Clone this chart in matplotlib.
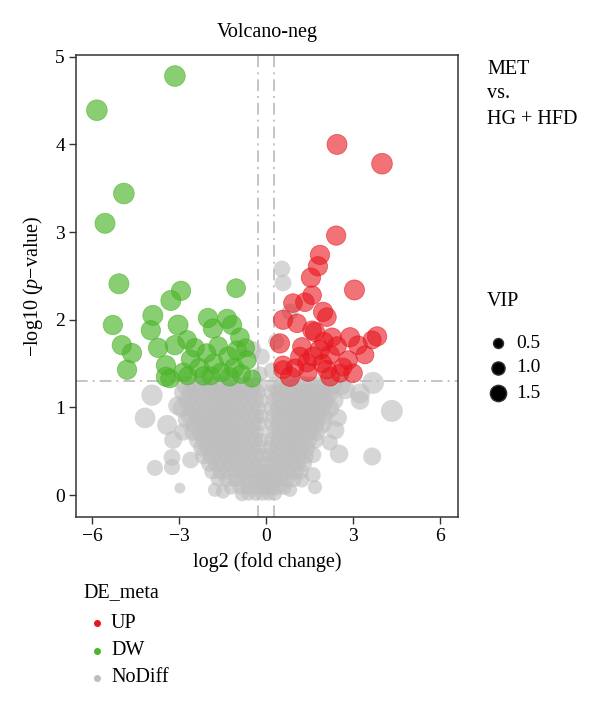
import matplotlib
matplotlib.use("Agg")
import matplotlib.pyplot as plt
import numpy as np

plt.rcParams['font.family'] = ['Liberation Serif', 'DejaVu Serif']
plt.rcParams['mathtext.fontset'] = 'custom'
plt.rcParams['mathtext.rm'] = 'Liberation Serif'
plt.rcParams['mathtext.it'] = 'Liberation Serif:italic'

# ---------------- data (log2FC, -log10 p, VIP) ----------------
up_points = [
    (2.45, 4.00, 2.0), (4.00, 3.78, 2.1), (2.42, 2.96, 1.9), (3.05, 2.34, 2.0),
    (1.86, 2.74, 1.9), (1.79, 2.61, 1.9), (1.55, 2.48, 1.9),
    (1.59, 2.28, 1.8), (0.93, 2.19, 1.8), (1.34, 2.20, 1.8), (1.97, 2.09, 1.9),
    (2.10, 2.03, 1.8), (0.59, 2.00, 1.9), (1.07, 1.96, 1.8), (1.69, 1.86, 1.9),
    (2.28, 1.80, 1.8), (2.90, 1.80, 1.9), (3.83, 1.81, 1.9), (3.66, 1.77, 1.7),
    (0.48, 1.73, 1.9), (3.17, 1.71, 1.8), (1.24, 1.69, 1.8), (1.86, 1.66, 1.9),
    (2.21, 1.60, 1.8), (3.41, 1.60, 1.7), (2.83, 1.54, 1.8), (0.59, 1.48, 1.8),
    (1.41, 1.51, 1.8), (3.00, 1.39, 1.8), (0.83, 1.35, 1.9), (2.10, 1.43, 1.8),
    (2.55, 1.39, 1.7), (1.62, 1.58, 1.9), (1.17, 1.58, 1.8), (0.59, 1.43, 1.7),
    (2.21, 1.35, 1.8), (1.59, 1.88, 1.8), (2.66, 1.46, 1.7), (1.95, 1.50, 1.8),
    (1.45, 1.40, 1.7), (2.45, 1.70, 1.8), (1.00, 1.45, 1.7), (2.00, 1.75, 1.8),
]

dw_points = [
    (-3.14, 4.78, 2.1), (-5.83, 4.39, 2.1), (-4.90, 3.44, 2.1), (-5.55, 3.10, 2.0),
    (-5.07, 2.41, 2.0), (-2.93, 2.33, 1.9), (-3.28, 2.22, 2.0), (-1.03, 2.36, 1.8),
    (-3.90, 2.05, 2.0), (-5.28, 1.94, 1.9), (-3.97, 1.88, 1.9), (-3.03, 1.94, 2.0),
    (-2.00, 2.02, 1.9), (-1.34, 2.01, 1.9), (-1.17, 1.94, 1.9), (-1.83, 1.90, 1.9),
    (-4.97, 1.71, 1.9), (-4.62, 1.62, 1.9), (-4.79, 1.43, 1.9), (-3.72, 1.68, 1.9),
    (-3.14, 1.71, 1.9), (-2.72, 1.77, 1.8), (-3.45, 1.48, 1.9), (-3.45, 1.35, 1.9),
    (-3.31, 1.33, 1.8), (-0.66, 1.54, 1.8), (-0.48, 1.33, 1.6), (-0.90, 1.80, 1.8),
    (-2.60, 1.55, 1.8), (-2.30, 1.45, 1.9), (-2.05, 1.62, 1.8), (-1.80, 1.50, 1.9),
    (-1.55, 1.40, 1.8), (-1.30, 1.58, 1.9), (-1.10, 1.45, 1.9), (-0.85, 1.38, 1.8),
    (-2.85, 1.40, 1.8), (-2.45, 1.68, 1.8), (-1.65, 1.70, 1.8), (-1.00, 1.65, 1.9),
    (-2.15, 1.36, 1.8), (-1.25, 1.35, 1.8), (-0.70, 1.68, 1.7), (-1.90, 1.36, 1.7),
    (-2.70, 1.36, 1.7),
]

nodiff_points = [
    # outliers
    (-4.17, 0.88, 2.1), (-3.93, 1.14, 2.2), (-3.41, 0.80, 2.0), (-3.83, 0.31, 1.4),
    (-3.24, 0.32, 1.4), (-2.97, 0.08, 0.6), (-3.24, 0.43, 1.5), (-2.72, 0.86, 1.8),
    (-3.20, 0.63, 1.7), (-2.86, 0.72, 1.6), (-3.05, 1.02, 1.8), (-2.60, 0.40, 1.5),
    (2.52, 0.47, 1.8), (3.66, 0.44, 1.7), (4.34, 0.96, 2.3), (3.24, 1.08, 1.8),
    (3.69, 1.28, 2.3), (3.24, 1.16, 2.0), (2.38, 0.74, 1.8), (2.48, 0.88, 1.7),
    (1.62, 0.46, 1.5), (1.62, 0.23, 1.3), (1.69, 0.09, 1.1), (0.83, 0.06, 1.1),
    (1.24, 0.17, 1.2), (2.20, 0.60, 1.4), (2.75, 1.20, 1.8),
    (0.55, 2.58, 1.5), (0.59, 2.42, 1.5), (0.83, 2.09, 1.5), (-0.45, 1.66, 1.5),
    (-0.14, 1.58, 1.4), (0.20, 1.42, 1.4), (-0.20, 1.38, 1.3), (0.35, 1.75, 1.4),
    # left lobe
    (-2.75, 1.25, 1.9), (-2.45, 1.25, 1.7), (-2.20, 1.25, 1.8), (-1.95, 1.25, 1.6),
    (-1.70, 1.25, 1.8), (-1.45, 1.25, 1.7), (-1.20, 1.25, 1.8), (-0.95, 1.25, 1.6),
    (-0.70, 1.25, 1.7), (-0.45, 1.25, 1.6), (-0.25, 1.25, 1.5),
    (-2.85, 1.17, 1.8), (-2.60, 1.17, 1.7), (-2.30, 1.17, 1.8), (-2.05, 1.17, 1.7),
    (-1.80, 1.17, 1.8), (-1.55, 1.17, 1.7), (-1.30, 1.17, 1.8), (-1.05, 1.17, 1.7),
    (-0.80, 1.17, 1.6), (-0.55, 1.17, 1.7), (-0.30, 1.17, 1.5),
    (-2.70, 1.08, 1.8), (-2.45, 1.08, 1.7), (-2.15, 1.08, 1.8), (-1.90, 1.08, 1.7),
    (-1.62, 1.08, 1.8), (-1.38, 1.08, 1.7), (-1.12, 1.08, 1.8), (-0.88, 1.08, 1.6),
    (-0.62, 1.08, 1.7), (-0.38, 1.08, 1.6), (-0.18, 1.08, 1.3),
    (-2.90, 0.99, 1.8), (-2.55, 0.99, 1.7), (-2.28, 0.99, 1.8), (-2.00, 0.99, 1.7),
    (-1.75, 0.99, 1.8), (-1.50, 0.99, 1.7), (-1.25, 0.99, 1.8), (-1.00, 0.99, 1.7),
    (-0.74, 0.99, 1.6), (-0.50, 0.99, 1.6), (-0.25, 0.99, 1.3),
    (-2.60, 0.90, 1.8), (-2.35, 0.90, 1.7), (-2.10, 0.90, 1.8), (-1.85, 0.90, 1.7),
    (-1.60, 0.90, 1.8), (-1.35, 0.90, 1.7), (-1.10, 0.90, 1.8), (-0.85, 0.90, 1.7),
    (-0.60, 0.90, 1.6), (-0.35, 0.90, 1.4), (-0.18, 0.90, 1.2),
    (-2.45, 0.81, 1.8), (-2.20, 0.81, 1.7), (-1.95, 0.81, 1.8), (-1.70, 0.81, 1.7),
    (-1.45, 0.81, 1.8), (-1.20, 0.81, 1.7), (-0.95, 0.81, 1.8), (-0.70, 0.81, 1.6),
    (-0.45, 0.81, 1.5), (-0.22, 0.81, 1.3),
    (-2.50, 0.72, 1.7), (-2.25, 0.72, 1.8), (-2.00, 0.72, 1.7), (-1.78, 0.72, 1.8),
    (-1.52, 0.72, 1.7), (-1.28, 0.72, 1.8), (-1.02, 0.72, 1.7), (-0.78, 0.72, 1.7),
    (-0.52, 0.72, 1.5), (-0.30, 0.72, 1.3),
    (-2.35, 0.63, 1.7), (-2.10, 0.63, 1.8), (-1.85, 0.63, 1.7), (-1.60, 0.63, 1.8),
    (-1.35, 0.63, 1.7), (-1.10, 0.63, 1.8), (-0.85, 0.63, 1.7), (-0.60, 0.63, 1.6),
    (-0.38, 0.63, 1.4), (-0.18, 0.63, 1.2),
    (-2.20, 0.54, 1.7), (-1.95, 0.54, 1.8), (-1.70, 0.54, 1.7), (-1.45, 0.54, 1.8),
    (-1.20, 0.54, 1.7), (-0.95, 0.54, 1.8), (-0.70, 0.54, 1.7), (-0.45, 0.54, 1.5),
    (-0.22, 0.54, 1.3),
    (-2.15, 0.45, 1.6), (-1.88, 0.45, 1.7), (-1.60, 0.45, 1.8), (-1.35, 0.45, 1.7),
    (-1.10, 0.45, 1.8), (-0.85, 0.45, 1.7), (-0.60, 0.45, 1.6), (-0.35, 0.45, 1.5),
    (-0.15, 0.45, 1.3),
    (-1.95, 0.36, 1.5), (-1.70, 0.36, 1.6), (-1.45, 0.36, 1.7), (-1.20, 0.36, 1.6),
    (-0.95, 0.36, 1.7), (-0.70, 0.36, 1.6), (-0.45, 0.36, 1.5), (-0.22, 0.36, 1.4),
    (-1.85, 0.27, 1.4), (-1.55, 0.27, 1.5), (-1.28, 0.27, 1.6), (-1.02, 0.27, 1.6),
    (-0.78, 0.27, 1.6), (-0.52, 0.27, 1.5), (-0.28, 0.27, 1.5), (-0.08, 0.27, 1.3),
    (-1.65, 0.18, 1.2), (-1.35, 0.18, 1.3), (-1.05, 0.18, 1.4), (-0.80, 0.18, 1.5),
    (-0.55, 0.18, 1.5), (-0.30, 0.18, 1.5), (-0.10, 0.18, 1.4),
    (-1.76, 0.06, 1.1), (-1.48, 0.04, 1.1), (-1.20, 0.09, 1.2), (-0.90, 0.09, 1.2),
    (-0.62, 0.09, 1.3), (-0.38, 0.09, 1.3), (-0.15, 0.09, 1.3),
    (-0.83, 0.01, 1.1), (-0.60, 0.02, 1.2), (-0.35, 0.02, 1.2), (-0.12, 0.02, 1.2),
    # right lobe
    (0.30, 1.25, 1.6), (0.55, 1.25, 1.7), (0.80, 1.25, 1.8), (1.05, 1.25, 1.7),
    (1.30, 1.25, 1.8), (1.55, 1.25, 1.7), (1.80, 1.25, 1.8), (2.05, 1.25, 1.7),
    (2.30, 1.25, 1.8), (2.60, 1.25, 1.9),
    (0.20, 1.17, 1.4), (0.45, 1.17, 1.7), (0.70, 1.17, 1.8), (0.95, 1.17, 1.7),
    (1.20, 1.17, 1.8), (1.45, 1.17, 1.7), (1.70, 1.17, 1.8), (1.95, 1.17, 1.7),
    (2.20, 1.17, 1.8),
    (0.30, 1.08, 1.5), (0.55, 1.08, 1.7), (0.80, 1.08, 1.8), (1.05, 1.08, 1.7),
    (1.30, 1.08, 1.8), (1.55, 1.08, 1.7), (1.80, 1.08, 1.8), (2.05, 1.08, 1.7),
    (2.35, 1.08, 1.8),
    (0.20, 0.99, 1.4), (0.45, 0.99, 1.7), (0.70, 0.99, 1.8), (0.95, 0.99, 1.7),
    (1.20, 0.99, 1.8), (1.45, 0.99, 1.7), (1.70, 0.99, 1.8), (1.95, 0.99, 1.7),
    (2.20, 0.99, 1.8),
    (0.25, 0.90, 1.4), (0.50, 0.90, 1.7), (0.75, 0.90, 1.8), (1.00, 0.90, 1.7),
    (1.25, 0.90, 1.8), (1.50, 0.90, 1.7), (1.75, 0.90, 1.8), (2.00, 0.90, 1.7),
    (0.20, 0.81, 1.3), (0.45, 0.81, 1.7), (0.70, 0.81, 1.8), (0.95, 0.81, 1.7),
    (1.20, 0.81, 1.8), (1.45, 0.81, 1.7), (1.70, 0.81, 1.8), (1.95, 0.81, 1.7),
    (0.25, 0.72, 1.4), (0.50, 0.72, 1.7), (0.75, 0.72, 1.8), (1.00, 0.72, 1.7),
    (1.25, 0.72, 1.8), (1.50, 0.72, 1.7), (1.75, 0.72, 1.7),
    (0.20, 0.63, 1.4), (0.45, 0.63, 1.7), (0.70, 0.63, 1.8), (0.95, 0.63, 1.7),
    (1.20, 0.63, 1.8), (1.45, 0.63, 1.7), (1.70, 0.63, 1.6),
    (0.15, 0.54, 1.3), (0.40, 0.54, 1.6), (0.65, 0.54, 1.8), (0.90, 0.54, 1.7),
    (1.15, 0.54, 1.8), (1.40, 0.54, 1.6),
    (0.12, 0.45, 1.3), (0.35, 0.45, 1.5), (0.60, 0.45, 1.7), (0.85, 0.45, 1.7),
    (1.10, 0.45, 1.7), (1.35, 0.45, 1.6),
    (0.10, 0.36, 1.3), (0.32, 0.36, 1.5), (0.55, 0.36, 1.6), (0.80, 0.36, 1.7),
    (1.05, 0.36, 1.6), (1.30, 0.36, 1.5),
    (0.05, 0.27, 1.3), (0.28, 0.27, 1.5), (0.50, 0.27, 1.6), (0.75, 0.27, 1.6),
    (1.00, 0.27, 1.5), (1.20, 0.27, 1.4),
    (0.05, 0.18, 1.3), (0.25, 0.18, 1.5), (0.45, 0.18, 1.5), (0.70, 0.18, 1.5),
    (0.95, 0.18, 1.4),
    (0.02, 0.09, 1.3), (0.20, 0.09, 1.4), (0.40, 0.09, 1.4), (0.62, 0.09, 1.3),
    (0.10, 0.02, 1.2), (0.30, 0.02, 1.2),
]

fc_threshold = 0.263
p_threshold = 1.301

x_ticks = [-6, -3, 0, 3, 6]
y_ticks = [0, 1, 2, 3, 4, 5]
vip_legend = [0.5, 1.0, 1.5]
group_labels = ["UP", "DW", "NoDiff"]
group_colors = {"UP": "#E8161E", "DW": "#4CB52A", "NoDiff": "#BEBEBE"}

# ---------------- figure ----------------
W, H = 600, 708
fig = plt.figure(figsize=(6, 7.08), dpi=100)
ax = fig.add_axes([76 / W, 1 - 517 / H, (458 - 76) / W, (517 - 55) / H])


def vip_to_s(v):
    d_px = 7.0 + 6.5 * np.asarray(v)
    return (d_px * 0.72) ** 2


for name, pts, alpha, lw in [("NoDiff", nodiff_points, 0.62, 0.0),
                             ("DW", dw_points, 0.65, 0.6),
                             ("UP", up_points, 0.6, 0.6)]:
    arr = np.array(pts)
    ax.scatter(arr[:, 0], arr[:, 1], s=vip_to_s(arr[:, 2]),
               color=group_colors[name], alpha=alpha, linewidths=lw,
               edgecolors=group_colors[name], zorder=2)

ls = (0, (7, 3, 1.2, 3))
for xv in (-fc_threshold, fc_threshold):
    ax.axvline(xv, color="#BBBBBB", lw=1.2, ls=ls, zorder=1)
ax.axhline(p_threshold, color="#BBBBBB", lw=1.2, ls=ls, zorder=1)

ax.set_xlim(-6.55, 6.62)
ax.set_ylim(-0.25, 5.02)
ax.set_xticks(x_ticks)
ax.set_xticklabels([str(t).replace("-", "\u2212") for t in x_ticks])
ax.set_yticks(y_ticks)
ax.tick_params(direction="out", length=5, width=1, labelsize=14, colors="#333333",
               labelcolor="black", pad=3)
for sp in ax.spines.values():
    sp.set_color("#333333")
    sp.set_linewidth(1.1)

ax.set_xlabel("log2 (fold change)", fontsize=14.5, labelpad=5)
ax.set_ylabel("\u2212log10 ($\\mathit{p}$\u2212value)", fontsize=14.5, labelpad=7)
ax.set_title("Volcano-neg", fontsize=14.5, pad=13)

# ---------------- annotations / legends ----------------
ov = fig.add_axes([0, 0, 1, 1], zorder=5)
ov.set_xlim(0, W)
ov.set_ylim(H, 0)
ov.axis("off")

ov.text(487, 69, "MET", fontsize=14.5, va="center", ha="left")
ov.text(487, 94, "vs.", fontsize=14.5, va="center", ha="left")
ov.text(487, 119, "HG + HFD", fontsize=14.5, va="center", ha="left")

ov.text(487, 302, "VIP", fontsize=14.5, va="center", ha="left")
for i, v in enumerate(vip_legend):
    yy = 343 + i * 25
    ov.scatter([498], [yy], s=vip_to_s(v) * 0.95, color="black", edgecolors="#333333",
               linewidths=1.0)
    ov.text(516, yy, f"{v:.1f}", fontsize=14, va="center", ha="left")

ov.text(83, 593, "DE_meta", fontsize=14.5, va="center", ha="left")
for i, g in enumerate(group_labels):
    yy = 623 + i * 27.5
    ov.scatter([97], [yy], s=(7 * 0.72) ** 2, color=group_colors[g], linewidths=0)
    ov.text(111, yy, g, fontsize=14.5, va="center", ha="left")

fig.savefig("out.png", dpi=100)
